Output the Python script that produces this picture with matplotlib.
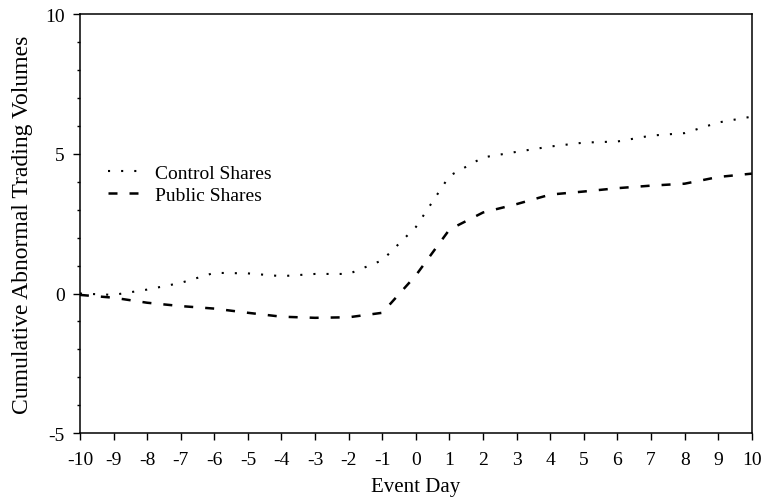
import matplotlib
matplotlib.use("Agg")
import matplotlib.pyplot as plt
from matplotlib.ticker import MultipleLocator

plt.rcParams['font.family'] = ['Liberation Serif', 'DejaVu Serif']
plt.rcParams['axes.unicode_minus'] = False

days = list(range(-10, 11))
control_shares = [0.0, -0.05, 0.14, 0.38, 0.74, 0.72, 0.62, 0.70, 0.70, 1.19,
                  2.38, 4.21, 4.87, 5.07, 5.26, 5.40, 5.44, 5.65, 5.74, 6.12, 6.33]
public_shares = [-0.05, -0.15, -0.33, -0.45, -0.54, -0.69, -0.83, -0.87, -0.85, -0.69,
                 0.65, 2.29, 2.90, 3.20, 3.54, 3.65, 3.77, 3.86, 3.93, 4.17, 4.29]
xticks = list(range(-10, 11))
yticks = [-5, 0, 5, 10]

fig = plt.figure(figsize=(7.61, 5.02), dpi=100)
ax = fig.add_axes([0.105, 0.135, 0.883, 0.835])

ax.plot(days, control_shares, color='black', linestyle=(0, (1, 5.3)), linewidth=1.5,
        label='Control Shares')
ax.plot(days, public_shares, color='black', linestyle=(0, (3.6, 4.8)), linewidth=1.8,
        label='Public Shares')

ax.set_xlim(-10, 10)
ax.set_ylim(-5, 10)
ax.set_xticks(xticks)
ax.set_yticks(yticks)
ax.yaxis.set_minor_locator(MultipleLocator(1))
ax.tick_params(axis='both', which='major', direction='out', length=5, width=1, labelsize=14)
ax.tick_params(axis='x', which='major', pad=8)
ax.tick_params(axis='y', which='major', pad=6)
ax.tick_params(axis='y', which='minor', direction='out', length=2.5, width=1)
for s in ax.spines.values():
    s.set_linewidth(1.1)

ax.set_xlabel('Event Day', fontsize=15, labelpad=6)
ax.set_ylabel('Cumulative Abnormal Trading Volumes', fontsize=17, labelpad=9)

leg = ax.legend(loc='upper left', bbox_to_anchor=(0.016, 0.684), frameon=False,
                fontsize=14, handlelength=2.0, handletextpad=0.4, labelspacing=0.25)

fig.savefig('out.png', dpi=100)
